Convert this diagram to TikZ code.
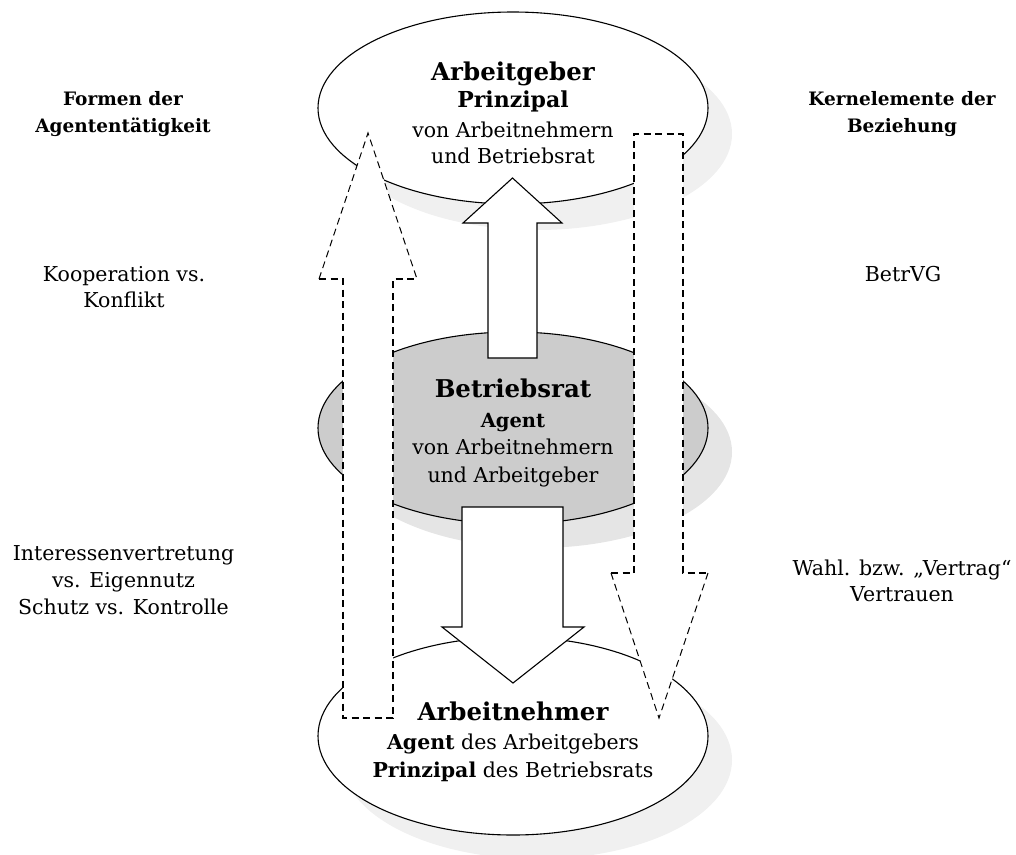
\documentclass[tikz,border=0pt]{standalone}
\usepackage{fontspec}
\setmainfont{DejaVu Serif}
\usetikzlibrary{shapes.geometric}
\definecolor{shadowA}{HTML}{F0F0F0}
\definecolor{shadowB}{HTML}{E5E5E5}
\definecolor{midgray}{HTML}{CCCCCC}
\begin{document}
\begin{tikzpicture}[x=1pt,y=-1pt,
  ellip/.style={ellipse, minimum width=390pt, minimum height=192pt, inner sep=0pt, line width=1.1pt},
  shad/.style={ellip, draw=none},
  dashbase/.style={dash pattern=on 7pt off 4.5pt, line join=miter},
  dashshaft/.style={dashbase, line width=1.7pt},
  dashhead/.style={dashbase, line width=1.0pt},
  solidarrow/.style={draw, fill=white, line width=1.1pt, line join=miter},
  title/.style={anchor=base, inner sep=0pt, font=\fontsize{24.5}{28}\selectfont\bfseries},
  subtitle/.style={anchor=base, inner sep=0pt, font=\fontsize{19.5}{26}\selectfont\bfseries},
  bigsub/.style={anchor=base, inner sep=0pt, font=\fontsize{22}{26}\selectfont\bfseries},
  txt/.style={anchor=base, inner sep=0pt, font=\fontsize{20.5}{27}\selectfont},
  headtxt/.style={anchor=base, inner sep=0pt, font=\fontsize{18.5}{27}\selectfont\bfseries}
]
\useasboundingbox (0,0) rectangle (1016,854);

% shadows
\node[shad, fill=shadowA] (agS) at (537,134) {};
\node[shad, fill=shadowB] (brS) at (537,452) {};
\node[shad, fill=shadowA, minimum height=198pt] (anS) at (537,760) {};

% ellipses
\node[ellip, draw, fill=white] (ag) at (513,108) {};
\node[ellip, draw, fill=midgray] (br) at (513,428) {};
\node[ellip, draw, fill=white, minimum height=198pt] (an) at (513,736) {};

% dashed arrow up (left)
\fill[white] (343,718) -- (343,279) -- (319,279) -- (368,133) -- (417,279) -- (393,279) -- (393,718) -- cycle;
\draw[dashshaft] (319,279) -- (343,279) -- (343,718) -- (393,718) -- (393,279) -- (417,279);
\draw[dashhead] (319,279) -- (368,133) -- (417,279);
% dashed arrow down (right)
\fill[white] (634,134) -- (683,134) -- (683,573) -- (708,573) -- (659,718) -- (611,573) -- (634,573) -- cycle;
\draw[dashshaft] (611,573) -- (634,573) -- (634,134) -- (683,134) -- (683,573) -- (708,573);
\draw[dashhead] (611,573) -- (659,718) -- (708,573);

% solid arrows
\draw[solidarrow] (488,358) -- (488,223) -- (463,223) -- (512.5,178) -- (562,223) -- (537,223) -- (537,358) -- cycle;
\draw[solidarrow] (462,507) -- (563,507) -- (563,627) -- (584,627) -- (513,683) -- (442,627) -- (462,627) -- cycle;

% texts top
\node[title] (t1) at (513,80) {Arbeitgeber};
\node[bigsub] (t2) at (513,107) {Prinzipal};
\node[txt] (t3) at (513,137) {von Arbeitnehmern};
\node[txt] (t4) at (513,163) {und Betriebsrat};
% middle
\node[title] (m1) at (513,397.5) {Betriebsrat};
\node[subtitle] (m2) at (513,427) {Agent};
\node[txt] (m3) at (513,454) {von Arbeitnehmern};
\node[txt] (m4) at (513,482) {und Arbeitgeber};
% bottom
\node[title] (b1) at (513,720.5) {Arbeitnehmer};
\node[txt] (b2) at (513,749) {\textbf{Agent} des Arbeitgebers};
\node[txt] (b3) at (513,777) {\textbf{Prinzipal} des Betriebsrats};

% left column
\node[headtxt] (l1) at (123,105.5) {Formen der};
\node[headtxt] (l2) at (123,132.5) {Agententätigkeit};
\node[txt] (l3) at (124,281) {Kooperation vs.};
\node[txt] (l4) at (124,307.5) {Konflikt};
\node[txt] (l5) at (123.5,560) {Interessenvertretung};
\node[txt] (l6) at (123.5,587) {vs. Eigennutz};
\node[txt] (l7) at (123.5,614) {Schutz vs. Kontrolle};

% right column
\node[headtxt] (r1) at (902,105.5) {Kernelemente der};
\node[headtxt] (r2) at (902,132.5) {Beziehung};
\node[txt] (r3) at (903,281) {BetrVG};
\node[txt] (r4) at (902,575) {Wahl. bzw. „Vertrag“};
\node[txt] (r5) at (902,601.5) {Vertrauen};
\end{tikzpicture}
\end{document}
